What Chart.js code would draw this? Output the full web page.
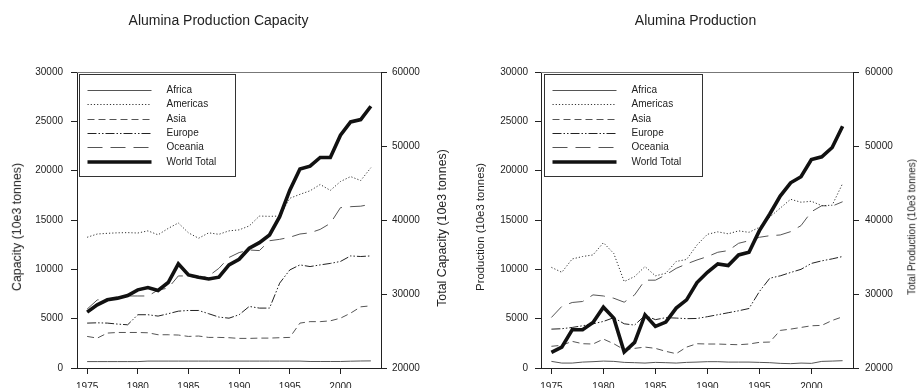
<!DOCTYPE html>
<html>
<head>
<meta charset="utf-8">
<script src="https://cdn.jsdelivr.net/npm/chart.js@4/dist/chart.umd.min.js"></script>
<style>
html,body{margin:0;padding:0;background:#fff;width:917px;height:388px;overflow:hidden;font-family:"Liberation Sans",Arial,sans-serif;color:#222;}
#wrap{position:relative;width:917px;height:388px;}
canvas{position:absolute;top:0;}
.title{position:absolute;top:12px;font-size:14px;line-height:16px;white-space:nowrap;transform:translateX(-50%);}
.yt{position:absolute;white-space:nowrap;line-height:1.15;transform:translate(-50%,-50%) rotate(-90deg);}
</style>
</head>
<body>
<div id="wrap">
  <canvas id="cap" width="458" height="388" style="left:0;width:458px;height:388px;"></canvas>
  <canvas id="prod" width="459" height="388" style="left:458px;width:459px;height:388px;"></canvas>
  <div class="title" style="left:218.5px;">Alumina Production Capacity</div>
  <div class="title" style="left:695.5px;">Alumina Production</div>
  <div class="yt" style="left:17px;top:227px;font-size:12.4px;">Capacity (10e3 tonnes)</div>
  <div class="yt" style="left:441.5px;top:228px;font-size:12.4px;">Total Capacity (10e3 tonnes)</div>
  <div class="yt" style="left:481px;top:227px;font-size:11.4px;">Production (10e3 tonnes)</div>
  <div class="yt" style="left:912px;top:227px;font-size:10px;">Total Production (10e3 tonnes)</div>
</div>
<script>
// ---- data ----
const years = [1975,1976,1977,1978,1979,1980,1981,1982,1983,1984,1985,1986,1987,1988,1989,1990,1991,1992,1993,1994,1995,1996,1997,1998,1999,2000,2001,2002,2003];
const xTickValues = [1975,1980,1985,1990,1995,2000];
const leftTickStep = 5000;
const rightTickStep = 10000;
const seriesNames = ["Africa","Americas","Asia","Europe","Oceania","World Total"];

// Capacity (10e3 tonnes)
const capAfrica   = [650,650,650,650,650,650,700,700,700,700,700,700,700,700,700,700,700,700,700,700,700,700,660,660,660,660,690,710,720];
const capAmericas = [13250,13580,13650,13700,13720,13680,13900,13500,14150,14700,13700,13150,13700,13550,13900,14000,14400,15400,15370,15400,17200,17600,17960,18600,18000,18900,19400,19000,20300];
const capAsia     = [3200,3030,3540,3600,3600,3600,3570,3370,3370,3340,3200,3240,3100,3100,3070,3000,3000,3030,3030,3070,3100,4550,4700,4700,4780,5050,5560,6200,6300];
const capEurope   = [4550,4580,4550,4450,4380,5400,5400,5260,5500,5760,5830,5830,5500,5160,5050,5400,6240,6070,6070,8600,9940,10450,10280,10450,10600,10800,11360,11300,11360];
const capOceania  = [5970,6900,6980,7150,7300,7300,7300,7900,8100,9330,9330,9100,9330,10100,11200,11700,11960,11900,12900,13040,13250,13580,13700,14050,14660,16250,16350,16400,16600];
const capWorld    = [27550,28540,29210,29440,29800,30560,30880,30470,31550,34070,32580,32270,32040,32270,33930,34700,36180,36940,37980,40450,44040,46880,47280,48450,48450,51460,53260,53570,55370];

// Production (10e3 tonnes)
const prodAfrica   = [670,500,500,600,640,700,670,570,540,500,570,540,500,570,600,640,640,600,600,600,570,540,470,440,500,470,670,700,740];
const prodAmericas = [10200,9700,11050,11300,11460,12700,11600,8760,9270,10280,9340,9600,10800,11000,12470,13550,13800,13600,13900,13750,14260,15300,16200,17100,16800,16900,16450,16500,18700];
const prodAsia     = [2200,2300,2700,2460,2430,2930,2460,1850,1990,2120,1990,1690,1450,2120,2460,2430,2430,2390,2360,2430,2600,2630,3810,3940,4110,4280,4320,4820,5190];
const prodEurope   = [3940,3980,4110,4280,4480,4720,5100,4480,4350,5330,4900,5100,5060,5000,5020,5200,5400,5600,5800,6030,7750,9100,9340,9680,10000,10600,10860,11060,11300];
const prodOceania  = [5120,6240,6640,6740,7410,7300,7070,6670,7410,8900,8900,9440,10100,10550,10950,11290,11730,11900,12640,12900,13250,13410,13480,13820,14430,15840,16450,16410,16850];
const prodWorld    = [22110,22830,25170,25170,26160,28220,26740,22160,23460,27190,25620,26200,28090,29210,31550,32940,34070,33840,35280,35640,38560,40810,43240,45030,45840,48180,48540,49800,52670];

// ---- styles ----
Chart.defaults.font.family = "'Liberation Sans', Arial, sans-serif";
Chart.defaults.color = '#222';

const styles = [
  {borderColor:'#555', borderWidth:1, borderDash:[]},
  {borderColor:'#333', borderWidth:1, borderDash:[1.2,2]},
  {borderColor:'#555', borderWidth:1, borderDash:[7,4]},
  {borderColor:'#222', borderWidth:1, borderDash:[9,2,1.5,2,1.5,2]},
  {borderColor:'#555', borderWidth:1, borderDash:[15,8]},
  {borderColor:'#111', borderWidth:3.6, borderDash:[]}
];

function makeDatasets(series) {
  return series.map((vals, i) => Object.assign({
    label: seriesNames[i],
    data: vals,
    yAxisID: i === 5 ? 'y2' : 'y',
    pointRadius: 0,
    tension: 0,
    fill: false,
    order: i === 5 ? 0 : 1
  }, styles[i]));
}

const boxLegend = {
  id: 'boxLegend',
  afterDatasetsDraw(chart, args, opts) {
    const ctx = chart.ctx, ca = chart.chartArea;
    const x0 = Math.round(ca.left + opts.dx) + 0.5, y0 = Math.round(ca.top + 2) + 0.5;
    const w = opts.w, h = 102;
    ctx.save();
    ctx.fillStyle = '#fff';
    ctx.fillRect(x0, y0, w, h);
    ctx.strokeStyle = '#333';
    ctx.lineWidth = 1;
    ctx.setLineDash([]);
    ctx.strokeRect(x0, y0, w, h);
    chart.data.datasets.forEach((ds, i) => {
      const y = Math.round(y0 + 15.5 + i * 14.3) + (ds.borderWidth > 2 ? 0 : 0.5);
      ctx.beginPath();
      ctx.setLineDash(ds.borderDash || []);
      ctx.strokeStyle = ds.borderColor;
      ctx.lineWidth = ds.borderWidth;
      ctx.moveTo(x0 + 8, y);
      ctx.lineTo(x0 + 72, y);
      ctx.stroke();
      ctx.setLineDash([]);
      ctx.fillStyle = '#222';
      ctx.font = "10px 'Liberation Sans', Arial, sans-serif";
      ctx.textBaseline = 'middle';
      ctx.textAlign = 'left';
      ctx.fillText(ds.label, x0 + 87, y);
    });
    ctx.restore();
  }
};

const topBorder = {
  id: 'topBorder',
  afterDraw(chart) {
    const ctx = chart.ctx, ca = chart.chartArea;
    ctx.save();
    ctx.strokeStyle = '#777';
    ctx.lineWidth = 1;
    ctx.beginPath();
    ctx.moveTo(ca.left, Math.round(ca.top) + 0.5);
    ctx.lineTo(ca.right, Math.round(ca.top) + 0.5);
    ctx.stroke();
    ctx.restore();
  }
};

function makeChart(id, series, geo) {
  const tickFont = {size: 10};
  return new Chart(document.getElementById(id), {
    type: 'line',
    data: { labels: years, datasets: makeDatasets(series) },
    options: {
      responsive: false,
      animation: false,
      devicePixelRatio: 1,
      layout: { padding: {top: 72, left: 0, right: 0, bottom: 0} },
      plugins: {
        legend: {display: false},
        title: {display: false},
        tooltip: {enabled: false},
        boxLegend: {dx: geo.legendDx, w: geo.legendW}
      },
      scales: {
        x: {
          type: 'linear', min: 1974, max: 2004,
          afterBuildTicks: s => { s.ticks = xTickValues.map(v => ({value: v})); },
          afterFit: s => { s.height = 20; },
          ticks: {font: tickFont, padding: 7, maxRotation: 0, callback: v => String(v)},
          grid: {drawOnChartArea: false, drawTicks: true, tickLength: 6, color: '#222'},
          border: {color: '#222', width: 1}
        },
        y: {
          position: 'left', min: 0, max: 30000,
          afterFit: s => { s.width = geo.leftW; },
          ticks: {stepSize: leftTickStep, font: tickFont, padding: geo.leftPad, callback: v => String(v)},
          grid: {drawOnChartArea: false, drawTicks: true, tickLength: 6, color: '#222'},
          border: {color: '#222', width: 1}
        },
        y2: {
          position: 'right', min: 20000, max: 60000,
          afterFit: s => { s.width = geo.rightW; },
          ticks: {stepSize: rightTickStep, font: tickFont, padding: geo.rightPad, callback: v => String(v)},
          grid: {drawOnChartArea: false, drawTicks: true, tickLength: 6, color: '#222'},
          border: {color: '#222', width: 1}
        }
      }
    },
    plugins: [boxLegend, topBorder]
  });
}

makeChart('cap', [capAfrica, capAmericas, capAsia, capEurope, capOceania, capWorld],
  {leftW: 77, rightW: 77, leftPad: 8, rightPad: 5, legendDx: 2, legendW: 156});
makeChart('prod', [prodAfrica, prodAmericas, prodAsia, prodEurope, prodOceania, prodWorld],
  {leftW: 83, rightW: 64, leftPad: 7, rightPad: 6, legendDx: 3, legendW: 158});
</script>
</body>
</html>
